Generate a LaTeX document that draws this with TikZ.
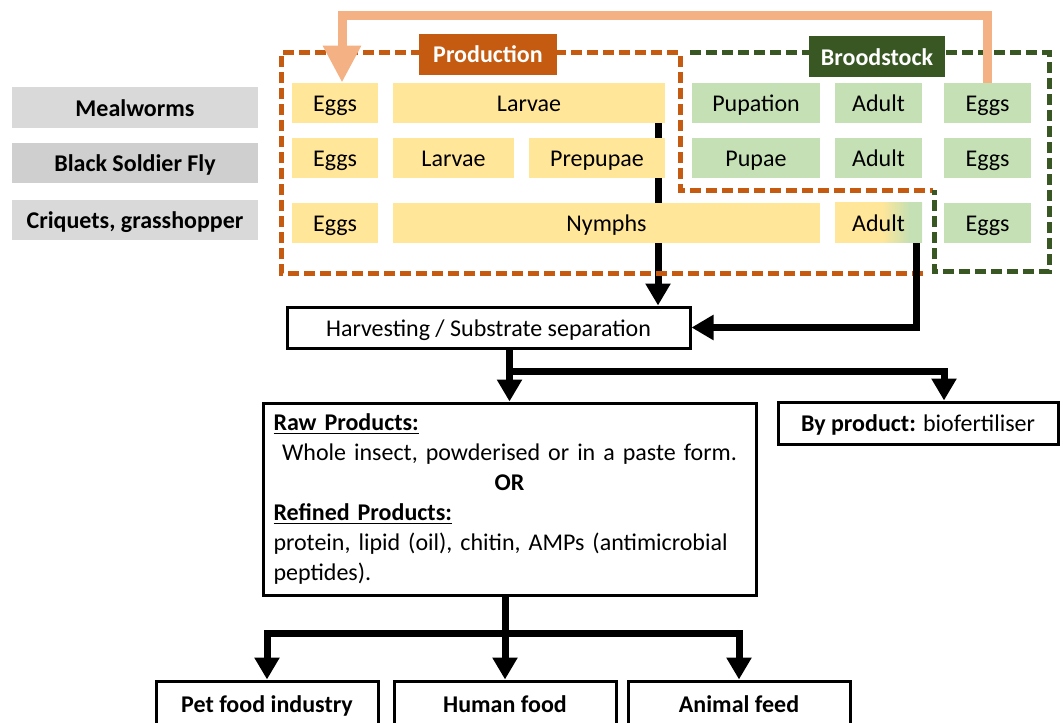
\documentclass[tikz,border=0pt]{standalone}
\usepackage{fontspec}
\setmainfont{Carlito}
\usetikzlibrary{arrows.meta,backgrounds}
\definecolor{prodfill}{HTML}{FFE699}
\definecolor{broodfill}{HTML}{C5E0B4}
\definecolor{prodline}{HTML}{C55A11}
\definecolor{broodline}{HTML}{385723}
\definecolor{backline}{HTML}{F4B183}
\definecolor{insfill}{HTML}{D9D9D9}
\definecolor{bsffill}{HTML}{CFCFCF}
\pgfdeclarehorizontalshading{adultshade}{100bp}{color(0bp)=(prodfill); color(25bp)=(prodfill); color(52bp)=(prodfill); color(68bp)=(broodfill); color(100bp)=(broodfill)}
\begin{document}
\begin{tikzpicture}[x=0.5pt,y=-0.5pt,
  font=\fontsize{12}{15}\selectfont,
  line/.style={text height=11pt, text depth=2.5pt},
  insect/.style={line, fill=insfill, minimum width=123pt, minimum height=20pt, inner sep=0pt, font=\fontsize{12}{15}\selectfont\bfseries},
  prod/.style={line, fill=prodfill, minimum height=20pt, inner sep=0pt},
  brood/.style={line, fill=broodfill, minimum height=20pt, inner sep=0pt},
  tag/.style={line, text=white, font=\fontsize{12}{15}\selectfont\bfseries, minimum height=20.5pt, inner sep=0pt},
  stepbox/.style={draw, line width=1.5pt, inner sep=0pt, minimum height=21pt},
  flow/.style={line width=3.5pt, -{Triangle[length=11pt,width=12pt]}},
  dashline/.style={line width=2.5pt, dash pattern=on 5.5pt off 2.5pt}]
\clip (0,0) rectangle (1063,722);
% insects
\node[insect] (mw) at (135,107.5){Mealworms};
\node[insect, fill=bsffill] (bsf) at (135,163){Black Soldier Fly};
\node[insect] (crq) at (135,220){Criquets, grasshopper};
% outlines
\draw[prodline, dashline] (923,273) -- (281,273) -- (281,53) -- (680,53) -- (680,190) -- (933,190);
\draw[broodline, dashline] (690,53) -- (1049,53) -- (1049,271) -- (934,271) -- (934,190);
\node[tag, fill=prodline, minimum width=69pt] (prodtag) at (488,54.5){Production};
\node[tag, fill=broodline, minimum width=68pt] (broodtag) at (877,57){Broodstock};
% row 1
\node[prod, minimum width=43pt] (egg1) at (335,103){Eggs};
\node[prod, minimum width=136pt] (lar1) at (529,103){Larvae};
\node[brood, minimum width=64pt] (pupn) at (756,103){Pupation};
\node[brood, minimum width=43.5pt] (adu1) at (878.5,103){Adult};
\node[brood, minimum width=43.5pt] (egb1) at (987.5,103){Eggs};
% row 2
\node[prod, minimum width=43pt] (egg2) at (335,158){Eggs};
\node[prod, minimum width=60.5pt] (lar2) at (453.5,158){Larvae};
\node[prod, minimum width=68pt] (prep) at (597,158){Prepupae};
\node[brood, minimum width=64pt] (pupa) at (756,158){Pupae};
\node[brood, minimum width=43.5pt] (adu2) at (878.5,158){Adult};
\node[brood, minimum width=43.5pt] (egb2) at (987.5,158){Eggs};
% row 3
\node[prod, minimum width=43pt] (egg3) at (335,222.5){Eggs};
\node[prod, minimum width=213.5pt] (nymp) at (606.5,222.5){Nymphs};
\node[line, shading=adultshade, minimum height=20pt, inner sep=0pt, minimum width=43.5pt] (adu3) at (878.5,222.5){Adult};
\node[brood, minimum width=43.5pt] (egb3) at (987.5,222.5){Eggs};
\draw[backline, line width=4.5pt, -{Triangle[length=18.5pt,width=18pt]}] (egb1.north) |- (342,16) -| ([xshift=3.5pt]egg1.north);
% processing
\node[stepbox, line, minimum width=201.5pt, minimum height=20.5pt] (harv) at (488.5,327.5){Harvesting / Substrate separation};
\node[stepbox, minimum width=246.5pt, minimum height=96pt, text width=236pt, align=left] (raw) at (509.5,499){%
\underline{\textbf{Raw Products:}}\par
{\centering Whole insect, powderised or in a paste form.\par}
{\centering\textbf{OR}\par}
\underline{\textbf{Refined Products:}}\par
protein, lipid (oil), chitin, AMPs (antimicrobial\\peptides).};
\node[stepbox, line, minimum width=140pt] (byp) at (918,423){\textbf{By product:} biofertiliser};
\node[stepbox, line, minimum width=111pt, minimum height=23pt, font=\fontsize{12}{15}\selectfont\bfseries] (pet) at (267,704){Pet food industry};
\node[stepbox, line, minimum width=111pt, minimum height=23pt, font=\fontsize{12}{15}\selectfont\bfseries] (hum) at (505,704){Human food};
\node[stepbox, line, minimum width=111pt, minimum height=23pt, font=\fontsize{12}{15}\selectfont\bfseries] (ani) at (739,704){Animal feed};
% arrows
\coordinate (lartail) at (658,123);
\coordinate (adutail) at (916,243);
\coordinate (fork) at (509.5,371);
\coordinate (split) at (505,633);
\begin{scope}[on background layer]
\draw[flow] (lartail) -- (lartail |- harv.north);
\end{scope}
\draw[flow] (adutail) |- (harv.east);
\draw[flow] (harv.south -| raw.north) -- (raw.north);
\draw[flow] (fork) -| ([xshift=13pt]byp.north);
\draw[flow] (raw.south -| split) -- (hum.north);
\draw[flow] (split) -| (pet.north);
\draw[flow] (split) -| (ani.north);
\end{tikzpicture}
\end{document}
